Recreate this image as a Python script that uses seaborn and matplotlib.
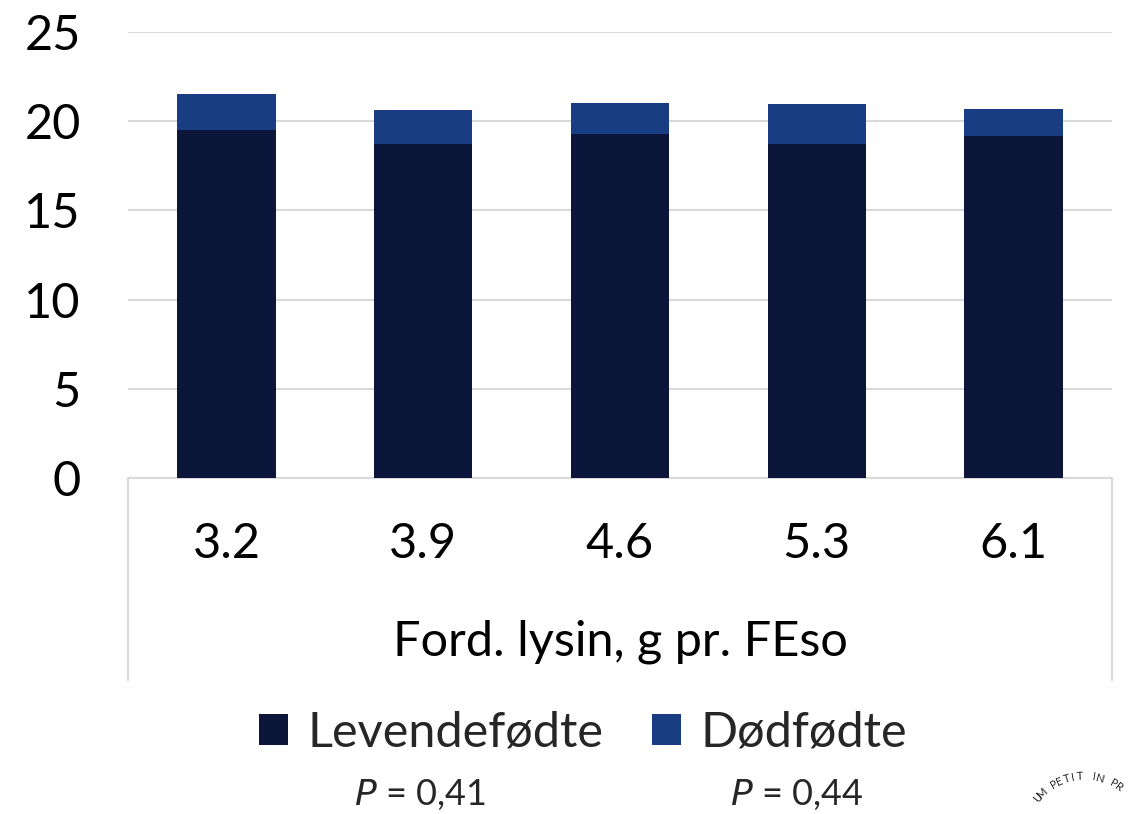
import matplotlib
matplotlib.use("Agg")
import matplotlib.pyplot as plt
import seaborn as sns
import pandas as pd
import numpy as np
from matplotlib.patches import Patch

categories = ["3.2", "3.9", "4.6", "5.3", "6.1"]
levendefodte = [19.5, 18.7, 19.3, 18.7, 19.15]
dodfodte = [2.0, 1.9, 1.7, 2.25, 1.55]
series_names = ["Levendefødte", "Dødfødte"]
p_values = ["0,41", "0,44"]
x_title = "Ford. lysin, g pr. FEso"
y_ticks = [0, 5, 10, 15, 20, 25]

sns.set_theme(style="white")
plt.rcParams['font.family'] = ['Lato', 'DejaVu Sans']

C_DARK = "#0b163a"
C_BLUE = "#193d83"
GRID = "#d9d9d9"
FS = 35

df = pd.DataFrame({"cat": categories, "lev": levendefodte, "dod": dodfodte})
df["total"] = df["lev"] + df["dod"]

fig = plt.figure(figsize=(11.28, 8.14), dpi=100)
ax = fig.add_axes([128/1128, 336/814, 984/1128, 446/814])

sns.barplot(data=df, x="cat", y="total", color=C_BLUE, width=0.5, saturation=1,
            edgecolor="none", linewidth=0, ax=ax, zorder=3)
sns.barplot(data=df, x="cat", y="lev", color=C_DARK, width=0.5, saturation=1,
            edgecolor="none", linewidth=0, ax=ax, zorder=4)

ax.set_ylim(0, 25)
ax.set_xlim(-0.5, 4.5)
ax.set_yticks(y_ticks)
ax.set_yticklabels([str(v) for v in y_ticks], fontsize=FS)
ax.yaxis.grid(True, color=GRID, linewidth=1.5, zorder=0)
ax.set_axisbelow(True)
for s in ["top", "right", "left"]:
    ax.spines[s].set_visible(False)
ax.spines["bottom"].set_color(GRID)
ax.spines["bottom"].set_linewidth(1.5)
ax.tick_params(axis="y", length=0, pad=34, labelcolor="black")
ax.tick_params(axis="x", length=0, pad=32, labelsize=FS, labelcolor="black")
ax.set_xlabel(x_title, fontsize=FS, labelpad=38, color="black")
ax.set_ylabel("")

# category axis frame lines (left and right)
for xa in (0, 1):
    ax.plot([xa, xa], [0, -202/446], transform=ax.transAxes, clip_on=False,
            color=GRID, linewidth=1.5)

handles = [Patch(facecolor=C_DARK, edgecolor="none"), Patch(facecolor=C_BLUE, edgecolor="none")]
fig.legend(handles, series_names, loc="center", bbox_to_anchor=(583/1128, 1 - 733/814),
           ncol=2, frameon=False, fontsize=FS, handlelength=0.6, handleheight=0.6,
           handletextpad=0.4, columnspacing=1.0)

fig.text(420/1128, 1 - 795/814, r"$\it{P}$ = " + p_values[0], ha="center", va="center", fontsize=26)
fig.text(797/1128, 1 - 795/814, r"$\it{P}$ = " + p_values[1], ha="center", va="center", fontsize=26)

# watermark (partial arc text)
wm = "UM PETIT IN PROF"
cx, cy, r = 1084, 836, 60
angles = 140 - 6.6 * np.arange(len(wm))
for ch, a in zip(wm, angles):
    xx = cx + r * np.cos(np.radians(a))
    yy = cy - r * np.sin(np.radians(a))
    if 1030 <= xx <= 1124:
        fig.text(xx/1128, 1 - yy/814, ch, rotation=a - 90, ha="center", va="center",
                 fontsize=8, color="#222222")

fig.savefig("out.png", dpi=100)
